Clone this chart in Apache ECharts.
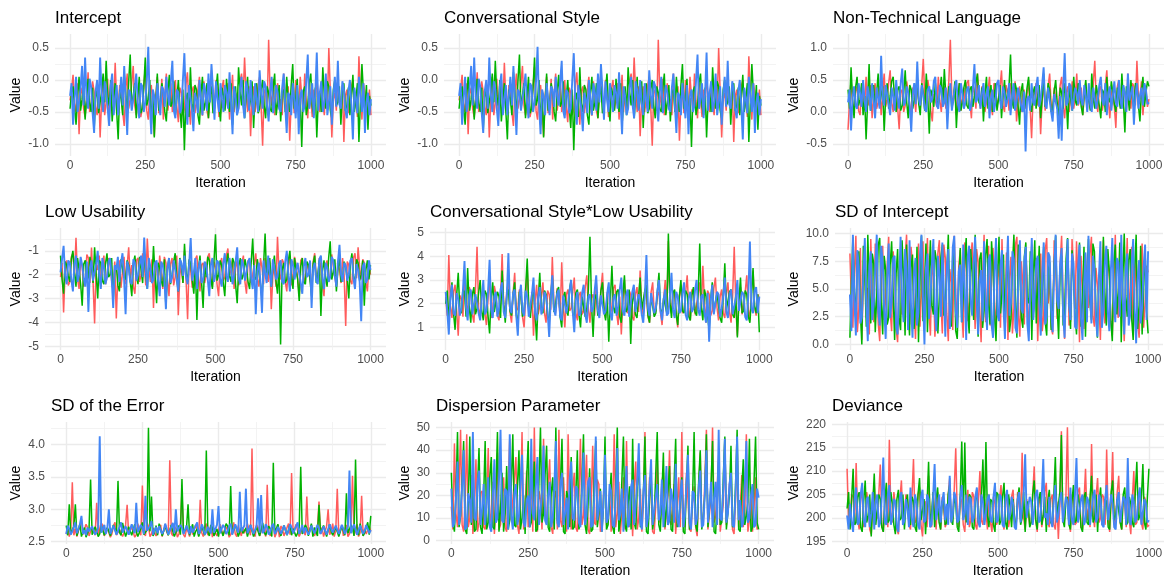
<!DOCTYPE html>
<html>
<head>
<meta charset="utf-8">
<script src="https://cdn.jsdelivr.net/npm/echarts@6/dist/echarts.min.js"></script>
<style>
  html, body { margin: 0; padding: 0; background: #fff; }
  #chart { width: 1166px; height: 580px; }
</style>
</head>
<body>
<div id="chart"></div>
<script>
// MCMC trace values, thinned: one draw every STEP iterations (0..1000), one row = 100 iterations
const STEP = 5;

// Intercept (the same draws are shown for Conversational Style)
const interceptRed = [
  -0.32,-0.15,0.08,-0.38,-0.50,-0.05,-0.85,-0.22,-0.12,-0.45,-0.58,-0.28,0.12,-0.50,-0.40,-0.02,-0.18,-0.42,-0.55,-0.10,
  -0.90,-0.30,0.05,-0.55,-0.35,0.02,-0.62,-0.18,0.00,-0.40,0.27,-0.35,-0.48,-0.08,-0.20,-0.50,-0.72,-0.15,0.10,-0.45,
  -0.30,-0.05,0.22,-0.40,-0.55,-0.20,-0.12,-0.58,-0.45,-0.10,0.20,-0.48,-0.62,-0.15,-0.08,-0.42,-0.88,-0.25,0.05,-0.52,
  -0.35,0.02,-0.62,-0.22,0.10,-0.48,-0.25,-0.05,-0.50,-0.30,0.00,-0.42,-0.66,-0.12,-0.20,-0.55,-0.45,-0.08,0.12,-0.38,
  -0.70,-0.18,-0.10,-0.52,-0.35,-0.15,0.05,-0.40,-0.56,-0.02,-0.25,-0.48,-0.60,-0.20,0.15,-0.35,-0.40,0.00,-0.15,-0.58,
  -0.52,-0.12,0.00,-0.45,-0.30,-0.05,-0.62,-0.25,0.08,-0.50,-0.20,-0.38,-0.45,-0.02,0.10,-0.30,0.35,-0.20,-0.50,-0.10,
  -0.88,-0.28,-0.10,-0.50,-0.30,-0.08,0.05,-0.42,-1.03,-0.15,-0.20,-0.48,0.63,-0.22,-0.40,0.02,-0.55,-0.18,-0.05,-0.45,
  -0.30,-0.55,0.10,-0.28,-0.60,-0.10,-0.95,-0.35,-0.20,-0.52,0.00,-0.30,-0.45,0.05,-0.25,-0.48,0.10,-0.32,-0.60,-0.05,
  -0.30,-0.58,-0.15,-0.40,0.05,-0.25,-0.50,-0.02,-0.35,-0.55,-0.10,-0.42,0.50,-0.18,-0.90,-0.30,-0.20,-0.48,0.05,-0.35,
  -0.40,-0.08,-0.97,-0.25,-0.15,-0.52,-0.50,-0.10,0.00,-0.45,-0.30,-0.58,0.37,-0.20,-0.62,-0.05,-0.20,-0.50,-0.45,-0.15,
  -0.55
];
const interceptGreen = [
  -0.45,-0.20,-0.10,-0.42,-0.70,-0.25,0.05,-0.48,-0.30,-0.05,-0.62,-0.30,0.02,-0.35,-0.50,-0.12,-0.78,-0.28,-0.15,-0.52,
  -0.55,-0.18,0.10,-0.35,0.30,-0.25,-0.40,0.00,-0.65,-0.32,-0.05,-0.50,-0.93,-0.15,-0.30,-0.55,0.12,-0.20,-0.55,-0.02,
  0.40,-0.45,-0.25,-0.05,-0.60,-0.28,0.05,-0.52,-0.45,-0.12,0.35,-0.40,-0.30,0.00,-0.70,-0.22,-0.90,-0.35,0.10,-0.48,
  -0.40,-0.05,-0.20,-0.50,-0.65,-0.18,0.08,-0.42,-0.35,-0.02,-0.55,-0.28,0.00,-0.45,-0.75,-0.15,-1.10,-0.32,-0.20,-0.58,
  0.20,-0.38,-0.50,-0.08,-0.15,-0.55,-0.70,-0.22,0.05,-0.48,-0.35,-0.05,-0.60,-0.25,-0.10,-0.52,-0.45,-0.15,0.10,-0.40,
  -0.65,-0.12,-0.25,-0.48,0.02,-0.30,-0.50,-0.05,-0.70,-0.35,-0.10,-0.55,0.20,-0.18,-0.40,0.00,-0.60,-0.28,0.05,-0.45,
  -0.30,-0.02,-0.75,-0.25,-0.05,-0.52,-0.45,-0.15,0.00,-0.40,-0.60,-0.10,-0.20,-0.45,-0.50,-0.12,0.10,-0.55,-0.35,-0.08,
  -0.65,-0.20,-0.15,-0.50,0.05,-0.32,-0.50,-0.08,0.25,-0.45,-0.30,0.02,-0.62,-0.28,-1.05,-0.18,-0.10,-0.55,-0.40,-0.05,
  0.10,-0.42,-0.55,-0.12,-0.90,-0.30,-0.20,-0.50,0.20,-0.25,-0.45,-0.02,-0.10,-0.48,-0.60,-0.15,0.00,-0.40,-0.35,-0.10,
  -0.70,-0.22,-0.05,-0.48,-0.40,-0.12,-0.55,-0.28,0.08,-0.50,-0.30,-0.05,-0.97,-0.35,0.25,-0.20,-0.45,-0.08,-0.78,-0.25,
  -0.40
];
const interceptBlue = [
  -0.25,-0.05,-0.70,-0.30,0.05,-0.50,-0.35,-0.12,0.22,-0.40,0.35,-0.28,-0.45,0.02,-0.10,-0.52,-0.83,-0.18,0.00,-0.45,
  0.35,-0.22,-0.50,-0.02,-0.15,-0.45,-0.72,-0.10,0.10,-0.55,-0.30,-0.08,-0.55,-0.25,0.05,-0.40,0.22,-0.32,-0.86,-0.15,
  -0.20,-0.48,-0.45,-0.12,0.10,-0.35,-0.60,-0.05,-0.10,-0.50,-0.35,-0.02,0.52,-0.40,-0.85,-0.15,-0.25,-0.55,-0.05,-0.30,
  -0.55,-0.10,-0.15,-0.42,0.05,-0.25,-0.40,-0.02,0.30,-0.48,-0.60,-0.15,-0.20,-0.52,-0.45,0.00,0.42,-0.35,-0.70,-0.08,
  -0.10,-0.45,-0.80,-0.20,-0.30,-0.52,0.00,-0.28,-0.55,-0.05,-0.20,-0.48,0.10,-0.35,0.25,-0.15,-0.62,-0.02,-0.30,-0.50,
  -0.05,-0.30,-0.50,-0.08,-0.20,-0.45,0.12,-0.35,-0.85,-0.10,-0.25,-0.55,-0.45,-0.12,0.05,-0.40,-0.60,-0.02,-0.15,-0.48,
  0.00,-0.38,-0.55,-0.05,-0.30,-0.50,0.15,-0.22,-0.45,-0.02,-0.10,-0.42,-0.65,-0.18,0.05,-0.52,-0.35,-0.08,-0.20,-0.45,
  -0.50,-0.12,0.10,-0.40,-0.83,-0.20,-0.25,-0.55,-0.05,-0.30,-0.60,-0.08,-0.85,-0.25,-0.15,-0.50,-0.40,-0.02,0.40,-0.45,
  -0.30,-0.05,-0.60,-0.22,0.43,-0.48,-0.20,-0.02,-0.50,-0.35,0.10,-0.55,-0.35,-0.10,-0.70,-0.25,0.05,-0.42,0.30,-0.38,
  -0.45,-0.02,-0.15,-0.48,-0.60,-0.18,0.00,-0.40,-0.93,-0.12,-0.30,-0.52,0.05,-0.25,-0.50,-0.05,-0.83,-0.35,-0.20,-0.55,
  -0.30
];

// Non-Technical Language
const nonTechRed = [
  -0.28,0.18,0.50,0.12,0.05,0.32,0.40,0.02,-0.05,0.38,0.30,0.08,0.55,0.20,0.10,0.42,-0.10,0.25,0.45,0.05,
  0.15,0.40,-0.05,0.28,0.60,0.08,0.20,0.45,0.65,0.15,0.00,0.35,0.40,0.05,-0.27,0.30,0.35,0.00,0.10,0.48,
  0.50,0.12,-0.10,0.38,0.25,0.00,0.45,0.18,0.05,0.42,0.83,0.22,0.10,0.50,0.35,0.02,-0.15,0.28,0.30,0.08,
  0.55,0.18,0.00,0.35,0.40,0.05,0.20,0.48,1.13,0.22,0.15,0.40,-0.05,0.28,0.45,0.02,0.25,0.38,0.10,0.45,
  0.50,0.15,-0.10,0.42,0.30,0.05,0.60,0.25,0.05,0.40,0.35,0.00,0.15,0.32,0.55,0.12,-0.05,0.45,0.40,0.10,
  0.20,0.38,0.65,0.10,0.00,0.42,0.30,0.02,0.45,0.22,0.10,0.48,-0.15,0.15,0.40,0.00,0.25,0.35,0.05,0.28,
  0.50,0.08,-0.41,0.25,0.30,0.45,0.10,0.30,-0.35,0.18,0.45,0.02,0.20,0.40,0.60,0.12,0.00,0.38,0.35,0.05,
  0.15,0.42,0.55,0.08,-0.10,0.30,0.40,0.00,0.25,0.48,0.05,0.22,0.60,0.10,0.20,0.38,-0.05,0.25,0.45,0.02,
  0.30,0.05,0.10,0.45,0.80,0.15,0.00,0.35,0.40,0.02,0.20,0.42,0.65,0.18,-0.10,0.30,0.35,0.08,-0.25,0.40,
  0.50,0.12,0.15,0.38,0.30,0.02,0.60,0.22,0.05,0.45,0.40,0.10,0.80,0.25,0.20,0.48,-0.05,0.28,0.35,0.08,
  0.20
];
const nonTechGreen = [
  0.35,0.05,0.70,0.20,-0.10,0.38,0.55,0.10,0.20,0.45,-0.05,0.25,-0.43,0.15,0.75,0.02,0.30,0.42,0.05,0.28,
  0.60,0.12,0.15,0.40,-0.30,0.22,0.45,0.05,0.25,0.48,0.55,0.18,0.00,0.35,0.40,0.02,0.10,0.30,0.65,0.15,
  -0.10,0.42,0.35,0.05,0.20,0.38,0.50,0.12,-0.05,0.45,0.30,0.02,0.60,0.22,-0.34,0.35,0.25,0.08,0.45,0.18,
  0.10,0.32,0.55,0.12,0.67,0.25,0.00,0.40,0.35,0.05,0.20,0.48,-0.25,0.22,0.45,0.02,0.15,0.38,0.50,0.10,
  0.05,0.35,0.40,0.08,0.25,0.45,0.60,0.15,0.10,0.38,-0.15,0.28,0.55,0.05,0.30,0.42,0.00,0.20,0.45,0.02,
  0.20,0.42,-0.10,0.25,0.50,0.08,0.30,0.40,0.90,0.18,0.05,0.45,0.35,0.10,-0.20,0.32,0.45,0.02,0.15,0.38,
  0.55,0.12,0.00,0.30,0.40,0.05,0.25,0.42,-0.10,0.20,0.60,0.08,0.15,0.45,0.35,0.00,0.05,0.32,0.50,0.15,
  -0.15,0.38,0.30,0.05,0.45,0.22,-0.27,0.40,0.20,0.02,0.55,0.18,0.10,0.45,0.35,0.08,-0.05,0.30,0.50,0.12,
  0.25,0.02,0.60,0.20,0.05,0.42,0.40,0.10,-0.10,0.35,0.30,0.00,0.55,0.22,0.15,0.48,0.45,0.12,0.00,0.38,
  0.35,0.05,0.60,0.18,-0.32,0.40,0.25,0.02,0.50,0.22,0.05,0.45,0.40,0.10,-0.15,0.32,0.55,0.08,0.30,0.48,
  0.40
];
const nonTechBlue = [
  0.15,0.35,-0.29,0.22,0.40,0.10,0.05,0.45,0.30,0.08,0.50,0.18,0.00,0.40,0.25,0.02,0.45,0.20,-0.10,0.38,
  0.35,0.05,0.88,0.20,0.10,0.42,0.40,0.12,-0.05,0.38,0.25,0.02,0.50,0.22,0.05,0.45,0.68,0.10,0.15,0.40,
  0.30,0.08,-0.31,0.28,0.45,0.12,0.79,0.20,0.10,0.42,0.25,0.05,0.00,0.35,0.40,0.15,0.20,0.48,0.55,0.10,
  0.05,0.42,0.35,0.08,0.15,0.38,-0.27,0.22,0.45,0.02,0.20,0.40,0.50,0.12,0.00,0.45,0.30,0.05,0.15,0.35,
  0.40,0.02,0.10,0.38,0.75,0.15,0.20,0.42,0.05,0.28,0.45,0.08,0.25,0.40,-0.10,0.22,0.35,0.00,0.15,0.45,
  0.50,0.18,0.05,0.40,0.30,0.08,0.20,0.45,-0.05,0.25,0.45,0.02,0.15,0.38,0.35,0.10,0.00,0.32,-0.62,0.20,
  0.25,0.02,0.45,0.15,0.10,0.40,0.55,0.08,0.20,0.42,0.70,0.12,0.05,0.38,0.35,0.00,-0.15,0.28,0.30,0.05,
  -0.42,0.25,-0.45,0.35,0.92,0.10,0.15,0.45,0.40,0.02,0.05,0.38,0.30,0.12,0.50,0.18,0.10,0.42,0.25,0.00,
  0.45,0.12,0.00,0.38,0.35,0.05,0.20,0.42,0.55,0.18,0.10,0.45,-0.05,0.30,0.40,0.02,0.25,0.48,0.15,0.08,
  0.50,0.20,0.05,0.42,0.30,0.00,0.60,0.18,0.15,0.40,-0.20,0.25,0.45,0.05,0.25,0.38,0.10,0.45,0.35,0.12,
  0.15
];

// Low Usability
const lowUsRed = [
  -2.10,-1.50,-3.59,-1.80,-1.40,-2.45,-2.30,-1.25,-1.10,-2.05,-0.45,-2.20,-2.60,-1.35,-1.70,-2.50,-2.20,-1.15,-1.30,-2.35,
  -0.86,-2.30,-4.05,-1.55,-1.80,-1.20,-2.50,-1.65,-1.20,-2.40,-2.10,-1.30,-1.60,-2.25,-2.70,-1.45,-3.84,-2.00,-1.40,-2.55,
  -1.90,-1.25,-2.40,-1.60,-0.85,-2.15,-1.60,-2.50,-2.80,-1.40,-1.30,-2.30,-2.00,-1.10,-1.50,-2.45,-0.48,-1.75,-2.30,-1.35,
  -3.40,-1.50,-1.70,-2.40,-1.20,-1.90,-2.60,-1.25,-1.50,-2.20,-2.90,-1.55,-1.30,-2.45,-2.10,-1.20,-3.70,-2.00,-1.60,-2.35,
  -1.00,-2.20,-3.87,-1.40,-1.80,-2.55,-2.40,-1.35,-1.20,-2.10,-2.70,-1.60,-1.50,-2.35,-2.00,-1.25,-1.10,-2.15,-2.50,-1.45,
  -1.70,-2.40,-2.90,-1.55,-1.30,-2.25,-2.10,-1.20,-0.90,-2.00,-1.80,-1.35,-2.60,-1.70,-1.40,-2.45,-2.20,-1.50,-1.20,-2.30,
  -2.80,-1.40,-1.50,-2.35,-2.00,-1.55,-1.10,-2.20,-2.50,-1.30,-1.70,-2.40,-1.30,-1.90,-2.30,-1.45,-3.45,-2.05,-1.60,-2.50,
  -0.41,-1.95,-2.20,-1.35,-1.50,-2.30,-2.70,-1.60,-1.20,-2.45,-2.00,-1.25,-1.60,-2.15,-2.90,-1.40,-1.30,-2.35,-2.10,-1.50,
  -1.50,-2.20,-2.60,-1.45,-1.10,-2.05,-2.30,-1.30,-1.70,-2.40,-2.90,-1.60,-1.40,-2.30,-2.00,-1.15,-1.20,-2.10,-2.50,-1.55,
  -1.80,-2.35,-1.30,-2.05,-4.15,-1.45,-1.60,-2.25,-2.40,-1.30,-1.10,-2.15,-0.85,-1.70,-2.20,-1.35,-1.50,-2.30,-2.70,-1.60,
  -2.00
];
const lowUsGreen = [
  -1.20,-2.20,-2.80,-1.45,-1.60,-2.05,-2.30,-1.35,-1.00,-1.90,-2.50,-1.30,-1.80,-2.40,-3.30,-1.55,-1.40,-2.30,-2.10,-1.25,
  -1.70,-2.35,-0.85,-1.95,-3.00,-1.40,-1.50,-2.25,-2.40,-1.55,-1.10,-2.10,-2.00,-1.30,-3.10,-1.75,-1.60,-2.45,-2.70,-1.35,
  -1.30,-2.10,-2.20,-1.40,-1.60,-2.30,-2.90,-1.55,-1.20,-2.05,-2.40,-1.25,-1.80,-2.35,-1.00,-1.95,-2.60,-1.45,-1.50,-2.20,
  -0.80,-2.00,-3.20,-1.50,-1.70,-2.25,-2.50,-1.35,-3.40,-1.80,-1.30,-2.40,-2.00,-1.45,-1.10,-2.15,-2.70,-1.30,-1.60,-2.35,
  -0.70,-1.90,-2.30,-1.35,-1.50,-2.20,-2.80,-1.60,-3.90,-1.75,-1.20,-2.30,-3.40,-1.50,-2.10,-1.25,-1.40,-2.15,-2.60,-1.45,
  -0.30,-2.25,-2.00,-1.40,-1.60,-2.35,-2.90,-1.55,-1.10,-2.05,-2.30,-1.30,-1.50,-2.45,-3.20,-1.65,-1.30,-2.20,-2.00,-1.35,
  -1.70,-2.30,-2.60,-1.50,-0.48,-2.10,-2.20,-1.35,-1.40,-2.40,-3.00,-1.60,-0.27,-2.15,-1.90,-1.30,-2.50,-1.70,-1.20,-2.25,
  -2.80,-1.55,-4.93,-1.80,-1.50,-2.35,-2.20,-1.40,-1.00,-2.10,-2.60,-1.30,-1.80,-2.20,-3.10,-1.65,-1.30,-2.30,-2.40,-1.45,
  -1.60,-2.25,-2.90,-1.55,-1.20,-2.35,-2.00,-1.40,-3.73,-1.85,-1.40,-2.10,-2.50,-1.30,-0.60,-2.20,-1.90,-1.35,-2.70,-1.75,
  -1.30,-2.30,-2.20,-1.45,-1.70,-2.15,-3.00,-1.55,-1.10,-2.05,-2.40,-1.35,-1.50,-2.25,-2.00,-1.40,-3.30,-1.80,-1.40,-2.20,
  -1.60
];
const lowUsBlue = [
  -1.90,-1.35,-0.79,-2.05,-2.40,-1.40,-1.50,-2.20,-2.70,-1.55,-1.20,-2.30,-2.00,-1.25,-1.60,-2.15,-2.50,-1.45,-3.56,-1.70,
  -1.40,-2.25,-2.20,-1.55,-1.00,-2.05,-2.60,-1.30,-1.70,-2.40,-2.10,-1.45,-1.30,-2.15,-3.40,-1.60,-1.80,-1.25,-2.30,-1.50,
  -1.10,-2.15,-3.66,-1.45,-1.70,-2.30,-2.40,-1.35,-1.50,-2.25,-2.00,-1.55,-1.20,-2.10,-0.44,-1.80,-2.60,-1.30,-1.70,-2.35,
  -2.20,-1.50,-1.40,-2.25,-2.90,-1.45,-1.60,-2.15,-3.45,-1.70,-1.30,-2.35,-2.10,-1.40,-1.80,-2.20,-2.70,-1.35,-1.50,-2.05,
  -1.20,-2.10,-2.40,-1.55,-0.46,-2.25,-1.90,-1.30,-2.60,-1.75,-1.40,-2.35,-2.20,-1.45,-1.60,-2.20,-2.90,-1.60,-1.30,-2.30,
  -2.00,-1.40,-1.50,-2.20,-2.50,-1.55,-1.10,-2.05,-2.30,-1.30,-1.70,-2.40,-2.00,-1.45,-0.85,-2.15,-2.40,-1.35,-1.60,-2.25,
  -2.20,-1.45,-1.30,-2.15,-2.60,-1.60,-3.66,-1.85,-1.50,-2.30,-3.60,-1.40,-1.90,-2.35,-1.20,-1.95,-2.50,-1.35,-1.70,-2.20,
  -2.10,-1.55,-1.40,-2.30,-2.40,-1.45,-1.00,-2.05,-2.70,-1.35,-1.60,-2.20,-2.20,-1.50,-1.50,-2.35,-2.80,-1.65,-1.30,-2.10,
  -2.00,-1.40,-3.40,-1.75,-1.50,-2.25,-2.40,-1.35,-1.20,-2.15,-2.60,-1.50,-1.70,-2.30,-2.10,-1.25,-1.40,-2.05,-2.50,-1.45,
  -0.75,-2.00,-2.30,-1.50,-1.60,-2.25,-2.00,-1.40,-1.30,-2.15,-2.60,-1.55,-1.80,-2.30,-3.95,-1.65,-1.50,-2.35,-2.20,-1.40,
  -1.80
];

// Conversational Style*Low Usability
const interRed = [
  2.30,1.50,4.05,1.90,1.40,2.50,2.80,1.70,0.65,2.35,2.20,1.45,3.10,2.00,1.60,2.70,2.50,1.55,1.20,2.60,
  4.40,1.80,1.50,2.40,2.60,1.60,1.10,2.20,3.20,1.40,1.80,2.75,2.40,1.50,1.30,2.30,4.09,1.90,1.70,2.55,
  2.90,1.65,1.20,2.45,3.30,1.70,1.80,2.60,2.40,1.45,1.00,2.25,3.50,1.80,1.60,2.50,0.65,2.10,2.80,1.55,
  1.50,2.30,2.90,1.60,1.20,2.55,2.40,1.75,3.97,2.05,1.60,2.65,2.20,1.45,3.75,1.90,1.00,2.40,2.60,1.70,
  1.80,2.50,3.10,1.60,1.30,2.35,2.50,1.55,1.70,2.70,3.20,1.80,1.20,2.25,2.40,1.50,2.90,1.95,1.50,2.60,
  3.30,1.70,1.40,2.45,2.60,1.50,1.90,2.65,2.80,1.60,1.10,2.30,0.70,2.15,3.00,1.75,1.60,2.55,2.40,1.45,
  1.30,2.40,2.70,1.65,3.40,1.90,1.50,2.60,2.30,1.45,1.20,2.50,2.90,1.55,1.70,2.35,2.50,1.60,1.10,2.20,
  3.00,1.75,4.64,2.00,1.60,2.55,2.40,1.50,1.00,2.30,2.80,1.60,1.70,2.45,3.20,1.80,1.30,2.60,2.50,1.55,
  1.50,2.40,2.90,1.70,3.60,2.10,1.20,2.55,2.40,1.50,1.70,2.65,3.10,1.85,1.30,2.30,2.60,1.60,1.40,2.45,
  2.90,1.65,1.20,2.35,4.40,1.90,0.65,2.20,2.70,1.55,1.60,2.50,3.20,1.75,1.30,2.60,3.40,1.80,1.50,2.40,
  2.20
];
const interGreen = [
  2.00,2.55,1.40,2.20,2.90,1.60,0.90,2.35,3.30,1.75,1.60,2.60,2.50,1.45,3.50,1.90,1.20,2.40,2.70,1.55,
  1.80,2.45,3.00,1.70,1.30,2.55,2.40,1.50,0.75,2.25,2.90,1.65,1.60,2.50,2.30,1.40,3.40,1.95,1.20,2.35,
  2.60,1.70,1.50,2.40,2.90,1.55,1.10,2.50,2.30,1.45,1.70,2.65,3.90,1.80,1.40,2.30,2.50,1.60,0.45,2.20,
  3.30,1.75,1.60,2.55,2.40,1.50,1.20,2.35,3.10,1.65,1.90,2.50,2.70,1.45,1.00,2.25,2.50,1.70,1.50,2.60,
  3.00,1.60,1.40,2.45,2.60,1.55,1.00,2.30,2.30,1.45,1.80,2.60,4.82,2.00,0.60,2.20,2.40,1.50,1.70,2.55,
  2.90,1.70,1.30,2.35,0.40,2.10,3.60,1.85,1.60,2.50,2.60,1.45,1.20,2.40,3.20,1.65,1.80,2.60,0.30,2.05,
  2.50,1.55,1.40,2.30,3.10,1.75,1.70,2.55,2.80,1.50,1.20,2.35,2.40,1.45,1.60,2.50,3.30,1.80,1.50,2.25,
  2.20,1.60,4.96,2.05,1.40,2.45,2.60,1.55,1.10,2.30,3.00,1.70,1.60,2.55,2.40,1.45,1.30,2.35,2.70,1.65,
  1.50,2.40,4.54,1.85,1.30,2.60,2.30,1.50,0.90,2.20,2.90,1.65,1.60,2.45,2.50,1.40,1.20,2.30,3.70,1.75,
  1.80,2.50,2.60,1.55,1.40,2.35,0.58,2.10,3.10,1.60,1.70,2.55,2.40,1.45,1.20,2.25,3.50,1.90,1.60,2.40,
  0.80
];
const interBlue = [
  2.50,1.70,0.70,2.25,2.80,1.60,1.50,2.45,2.20,1.50,1.80,2.55,3.80,1.85,1.30,2.35,2.60,1.55,1.60,2.40,
  2.40,1.60,1.30,2.20,3.00,1.55,1.70,2.50,3.85,1.75,1.40,2.30,2.50,1.45,1.80,2.60,2.90,1.65,1.40,2.35,
  4.13,1.80,1.60,2.45,2.60,1.50,0.65,2.25,2.80,1.70,1.50,2.55,2.30,1.45,1.90,2.40,3.10,1.60,1.30,2.30,
  2.70,1.55,1.80,2.50,2.30,1.65,0.60,2.20,3.20,1.75,1.50,2.40,2.60,1.45,1.30,2.35,2.40,1.60,2.00,2.55,
  3.00,1.70,0.80,2.15,2.50,1.50,1.60,2.45,2.80,1.55,1.20,2.30,2.40,1.65,1.80,2.55,3.20,1.75,1.40,2.35,
  2.30,1.55,1.70,2.45,2.90,1.60,1.30,2.25,2.40,1.50,1.90,2.60,3.10,1.70,1.50,2.35,2.60,1.45,1.40,2.50,
  2.80,1.65,1.60,2.40,2.20,1.55,1.20,2.30,4.05,1.80,1.50,2.45,2.50,1.60,1.80,2.55,3.00,1.70,1.30,2.20,
  2.60,1.50,1.60,2.35,3.30,1.75,1.40,2.50,2.30,1.60,1.70,2.45,2.90,1.55,1.30,2.25,2.50,1.65,1.80,2.55,
  3.00,1.75,1.50,2.30,2.40,1.60,1.20,2.45,0.40,2.10,2.80,1.55,1.50,2.50,2.40,1.45,1.80,2.35,3.10,1.65,
  1.40,2.40,2.60,1.55,1.50,2.25,3.00,1.70,1.70,2.50,2.40,1.45,1.30,2.35,4.62,1.80,1.60,2.55,2.70,1.60,
  2.30
];

// SD of Intercept
const sdIntRed = [
  8.2,4.0,1.5,6.3,9.8,1.1,3.2,8.7,0.4,5.5,7.6,2.4,5.1,0.9,9.5,4.6,2.0,9.1,6.8,1.9,
  0.3,5.8,8.9,2.2,4.2,7.1,9.7,3.0,1.2,8.4,6.5,1.4,0.2,6.0,8.0,2.7,3.5,7.7,9.9,4.3,
  1.8,8.8,7.2,3.6,0.5,5.3,9.1,1.6,4.8,9.3,2.5,6.6,9.6,3.1,0.8,7.4,6.2,0.7,3.0,8.2,
  9.4,4.1,1.0,9.0,7.8,2.8,0.3,6.8,5.6,1.3,9.8,4.4,2.2,7.0,8.5,3.3,0.6,9.2,6.9,2.1,
  3.8,7.9,9.2,5.0,1.4,8.6,7.4,3.4,0.2,6.1,9.9,2.0,4.5,8.9,1.7,5.7,8.7,3.9,0.9,7.2,
  6.0,1.5,9.5,4.7,2.8,8.3,0.4,5.9,7.9,1.0,3.3,9.0,9.7,2.6,0.7,7.5,5.4,1.8,8.6,3.8,
  1.1,6.4,9.0,2.9,4.0,7.8,0.3,5.2,8.2,1.2,2.6,8.5,9.6,3.7,6.3,1.6,0.9,9.4,7.5,2.3,
  3.6,7.3,9.8,4.2,0.5,6.2,8.8,1.7,2.1,9.5,6.6,3.2,9.3,5.6,0.2,8.0,4.9,1.4,8.1,4.5,
  3.3,8.1,9.7,2.5,1.6,6.9,7.0,3.9,0.4,5.8,9.4,1.9,2.9,7.6,6.4,2.2,0.8,5.1,9.9,3.5,
  2.4,6.7,8.3,4.0,0.3,5.4,9.6,2.7,5.2,8.8,1.3,4.9,7.7,2.0,0.6,6.3,9.1,1.5,3.9,7.1,
  6.5
];
const sdIntGreen = [
  0.6,5.4,9.7,4.8,2.6,7.5,8.4,3.0,0.0,8.9,6.1,1.6,9.9,5.0,1.9,8.2,7.3,1.1,4.4,9.0,
  9.6,3.7,0.9,8.0,6.7,1.8,2.4,7.2,9.3,4.5,0.4,6.4,8.6,2.3,1.3,9.4,5.9,0.8,9.0,3.3,
  0.8,6.9,8.1,1.4,3.4,8.8,0.2,5.6,9.8,2.1,5.0,9.1,1.1,6.0,9.4,3.5,2.7,8.5,7.6,1.0,
  0.9,7.8,9.0,2.6,3.9,6.5,9.9,3.1,1.6,8.3,7.1,1.2,0.5,5.3,8.7,2.0,4.3,7.4,9.6,2.9,
  1.0,8.6,6.4,2.2,9.9,4.9,0.7,7.7,8.3,1.5,3.1,8.0,9.5,3.6,1.8,9.3,7.0,2.5,0.3,6.2,
  9.7,2.8,4.6,8.1,0.9,5.5,8.9,1.1,2.3,7.0,9.9,3.9,0.6,9.0,6.8,2.4,1.5,7.9,9.2,4.2,
  3.7,8.4,0.4,6.1,9.4,1.9,5.5,8.9,1.2,4.6,8.8,2.0,0.8,6.7,7.4,1.3,2.9,7.2,9.8,3.4,
  0.5,6.6,8.0,1.7,3.0,7.7,9.6,4.0,1.4,8.5,6.0,2.6,0.9,5.8,9.2,1.6,4.1,8.8,0.7,6.3,
  9.5,3.8,2.2,9.1,8.4,3.2,0.6,5.9,7.1,1.8,9.7,4.7,1.7,8.6,6.6,2.1,0.3,7.3,9.0,2.7,
  4.7,9.2,0.2,5.7,10.0,4.4,2.5,7.6,8.6,2.3,0.4,6.8,9.9,1.4,3.5,8.9,0.9,5.0,8.5,3.0,
  1.0
];
const sdIntBlue = [
  4.5,1.2,9.9,4.0,0.8,8.5,7.0,1.9,2.4,6.3,9.6,3.4,0.3,7.1,8.4,2.2,3.6,6.8,9.9,2.9,
  1.7,8.9,7.5,3.1,0.5,6.0,9.1,2.4,3.9,7.8,8.0,1.6,0.9,5.5,9.7,3.8,2.0,8.6,6.9,1.3,
  9.4,3.5,0.6,6.4,7.8,1.7,2.9,8.1,9.9,4.4,0.0,6.9,8.2,2.3,4.0,7.3,9.5,2.8,1.2,8.0,
  6.3,2.5,9.2,4.8,0.7,7.0,8.6,1.4,3.4,8.8,9.8,3.0,1.5,6.6,7.2,2.0,9.0,5.1,0.4,7.9,
  8.9,3.9,2.6,7.4,9.7,4.2,0.9,5.8,6.7,2.1,9.3,3.6,1.3,7.7,8.1,1.8,0.6,6.5,9.6,2.7,
  2.1,7.1,8.5,3.3,0.5,6.2,9.8,2.6,3.7,8.4,7.7,1.5,1.0,5.9,9.4,3.2,2.8,7.6,8.8,1.9,
  0.3,6.1,9.6,2.2,4.3,7.5,8.0,3.7,0.8,6.4,9.2,1.8,2.5,8.3,7.9,3.0,1.1,6.7,9.9,4.0,
  3.2,7.2,8.7,2.7,0.6,5.6,9.5,3.5,2.2,8.2,7.3,1.6,1.4,6.9,9.0,2.4,0.4,5.3,8.3,2.0,
  9.8,4.6,1.9,8.0,6.9,2.3,0.7,6.0,9.3,1.5,3.0,7.4,8.9,2.9,1.2,6.6,9.6,3.8,2.0,7.8,
  7.4,2.5,9.9,4.3,0.9,6.8,8.2,1.7,2.7,7.3,9.5,3.2,0.1,5.9,7.6,1.9,3.3,7.0,9.0,2.2,
  8.4
];

// SD of the Error
const sdErrRed = [
  2.62,2.70,2.58,2.66,3.42,2.60,2.70,2.58,2.60,2.75,2.85,2.61,2.63,2.77,2.72,2.59,2.57,2.73,2.66,2.60,
  3.10,2.62,2.60,2.79,2.75,2.59,2.58,2.71,2.68,2.57,2.62,2.74,2.80,2.60,2.59,2.69,2.70,2.58,2.64,2.76,
  3.07,2.61,2.58,2.73,2.72,2.57,2.61,2.78,2.66,2.60,3.37,2.65,2.59,2.80,2.74,2.58,2.62,2.71,2.68,2.59,
  2.60,2.72,2.76,2.58,2.58,2.77,2.65,2.60,3.76,2.63,2.59,2.74,2.70,2.57,2.62,2.79,3.27,2.61,2.57,2.70,
  2.66,2.58,2.73,2.61,2.60,2.76,2.69,2.59,3.15,2.64,2.58,2.72,2.78,2.60,2.63,2.75,2.57,2.68,2.70,2.59,
  2.62,2.77,2.74,2.60,2.59,2.73,2.67,2.57,2.61,2.70,2.80,2.62,2.58,2.75,2.66,2.59,2.72,2.63,2.60,2.78,
  2.69,2.60,3.94,2.64,2.58,2.76,2.72,2.59,2.62,2.74,2.67,2.58,3.38,2.66,2.59,2.71,2.75,2.57,2.63,2.73,
  2.57,2.74,2.70,2.59,2.62,2.72,2.78,2.61,3.56,2.63,2.60,2.77,2.66,2.58,2.58,2.70,2.73,2.60,3.20,2.64,
  2.61,2.76,2.68,2.59,2.57,2.71,3.12,2.62,2.72,2.58,2.60,2.74,3.00,2.61,2.65,2.78,2.58,2.67,3.32,2.60,
  2.63,2.75,2.59,2.69,2.76,2.58,2.62,2.73,3.52,2.60,2.67,2.77,2.58,2.64,3.21,2.59,2.70,2.62,2.61,2.74,
  2.66
];
const sdErrGreen = [
  2.75,2.60,3.08,2.62,2.60,2.74,3.08,2.59,2.68,2.77,2.58,2.66,2.72,2.57,2.63,2.71,3.46,2.61,2.59,2.73,
  2.70,2.58,2.62,2.75,2.78,2.60,2.57,2.72,2.66,2.59,2.61,2.76,2.74,2.62,3.44,2.64,2.60,2.79,2.68,2.58,
  2.58,2.73,2.71,2.60,2.63,2.77,2.66,2.58,2.59,2.70,2.80,2.61,2.62,2.68,4.26,2.66,3.20,2.59,2.64,2.75,
  2.60,2.78,2.69,2.59,2.57,2.74,2.72,2.60,2.62,2.76,2.66,2.58,2.59,2.71,2.75,2.61,3.47,2.63,2.61,2.72,
  3.08,2.60,2.63,2.77,2.58,2.66,2.70,2.58,2.61,2.74,2.67,2.60,3.91,2.65,2.59,2.76,2.72,2.59,2.62,2.70,
  2.58,2.73,2.66,2.59,2.61,2.78,2.74,2.60,3.36,2.62,2.60,2.75,2.69,2.58,2.57,2.72,2.63,2.60,2.71,2.58,
  2.60,2.76,2.67,2.58,2.58,2.73,2.72,2.59,2.62,2.79,2.65,2.60,2.59,2.74,2.70,2.58,3.72,2.64,2.61,2.77,
  2.66,2.59,2.58,2.75,2.73,2.60,2.62,2.77,2.60,2.70,2.68,2.58,2.64,2.72,3.66,2.62,2.59,2.76,2.71,2.59,
  2.62,2.78,2.58,2.72,2.69,2.59,3.07,2.63,2.61,2.75,2.74,2.58,2.59,2.77,2.66,2.60,2.63,2.73,2.70,2.58,
  2.58,2.74,2.67,2.60,3.25,2.63,2.62,2.76,2.71,2.59,3.77,2.66,2.60,2.78,2.68,2.59,2.64,2.72,2.80,2.61,
  2.90
];
const sdErrBlue = [
  2.62,2.75,2.70,2.61,2.66,2.73,2.80,2.63,2.64,2.77,2.90,2.62,2.68,2.60,2.72,2.66,2.63,2.74,2.76,2.61,
  2.65,2.72,4.13,2.64,2.70,2.76,2.62,2.71,3.00,2.62,2.68,2.75,2.74,2.61,2.63,2.73,2.80,2.64,2.66,2.74,
  2.71,2.61,2.64,2.77,2.78,2.63,3.10,2.65,2.66,2.76,2.72,2.62,3.21,2.67,2.65,2.74,2.82,2.61,2.68,2.73,
  2.63,2.74,2.75,2.62,2.67,2.78,2.70,2.61,2.64,2.73,2.79,2.63,3.00,2.66,2.66,2.76,2.72,2.62,2.65,2.75,
  2.68,2.62,2.74,2.64,2.63,2.75,2.80,2.62,2.66,2.77,2.71,2.61,2.65,2.73,2.76,2.63,3.00,2.64,2.67,2.76,
  3.05,2.63,2.64,2.76,2.72,2.62,2.66,2.74,2.78,2.61,2.63,2.77,2.70,2.64,3.27,2.66,2.65,2.75,3.32,2.63,
  2.68,2.76,2.74,2.62,2.64,2.75,3.17,2.64,3.22,2.63,2.67,2.77,2.72,2.61,2.65,2.74,2.78,2.62,2.66,2.73,
  2.70,2.62,2.64,2.75,2.76,2.61,2.67,2.77,2.72,2.63,2.65,2.74,2.80,2.62,2.68,2.76,2.63,2.72,2.74,2.61,
  2.66,2.75,2.78,2.63,2.64,2.76,2.71,2.62,2.67,2.74,2.75,2.61,2.63,2.77,2.70,2.64,2.66,2.75,2.73,2.62,
  2.65,2.76,2.70,2.62,2.68,2.74,3.60,2.63,2.66,2.77,2.74,2.61,2.64,2.75,2.72,2.62,2.67,2.76,2.70,2.63,
  2.68
];

// Dispersion Parameter
const dispRed = [
  15,5,43,12,6,24,49,7,4,18,47,6,10,29,3,14,36,4,8,21,
  22,6,5,17,41,8,12,26,3,15,39,5,7,20,28,6,4,25,45,9,
  9,27,37,7,3,16,48,5,14,31,6,11,29,4,50,10,4,22,18,5,
  45,12,8,25,36,6,3,19,22,5,49,9,6,28,13,4,47,14,5,23,
  30,6,4,18,45,7,11,24,38,5,3,16,42,8,7,27,25,4,5,20,
  33,7,9,22,4,15,47,6,12,26,3,13,28,5,44,10,6,19,2,24,
  35,5,10,23,4,17,48,6,7,28,21,4,3,15,37,8,9,26,30,5,
  5,20,40,7,12,25,3,14,28,6,48,11,6,30,18,5,4,17,24,6,
  2,22,39,6,8,27,49,5,5,19,50,8,11,24,38,4,4,16,45,7,
  7,25,30,5,3,18,42,6,13,29,6,12,47,4,9,21,4,14,28,5,
  6
];
const dispGreen = [
  30,8,4,21,48,6,11,26,44,5,3,17,46,7,27,4,5,23,41,6,
  3,19,44,5,8,28,37,6,5,22,48,4,14,30,4,12,33,5,9,25,
  47,7,6,24,40,5,10,20,3,27,44,6,8,18,35,4,5,26,50,8,
  12,29,42,6,4,21,28,5,50,9,7,25,45,4,3,22,19,6,37,5,
  6,20,40,5,8,26,47,7,3,17,32,4,5,28,44,6,12,23,4,15,
  46,5,7,19,30,6,3,24,50,4,9,27,46,7,4,16,24,5,45,8,
  5,24,35,6,8,21,46,4,3,18,30,5,10,29,48,7,4,20,39,6,
  6,22,33,5,4,26,45,6,9,17,28,4,3,25,42,5,7,19,48,7,
  4,27,40,5,10,21,47,6,6,24,44,4,3,18,35,7,8,28,46,5,
  5,20,42,6,9,25,49,5,4,22,36,7,11,17,45,4,6,26,46,8,
  5
];
const dispBlue = [
  23,6,8,19,35,7,12,24,40,5,6,21,18,8,48,10,9,26,31,7,
  14,25,7,16,28,6,4,20,36,8,10,27,49,9,8,23,22,5,47,11,
  5,21,25,7,11,26,38,8,6,18,20,6,45,12,9,24,37,7,13,22,
  42,9,7,20,26,6,10,23,44,8,6,25,30,7,12,19,5,27,35,10,
  9,24,23,8,6,21,39,7,11,26,28,6,7,18,46,9,14,22,4,17,
  38,8,10,25,22,7,6,19,41,9,12,23,4,20,33,6,8,24,27,7,
  16,26,43,8,5,22,29,6,10,24,36,7,7,19,25,9,12,27,6,18,
  33,7,9,23,18,8,34,10,6,20,27,6,11,25,38,8,5,22,21,7,
  10,24,31,6,7,21,40,8,15,26,6,19,26,7,49,10,9,23,45,8,
  12,25,30,7,6,22,46,9,18,6,8,24,44,8,10,20,25,6,7,23,
  19
];

// Deviance
const devRed = [
  210.5,199.0,198.0,205.0,204.5,198.5,211.7,200.0,197.5,204.0,206.0,198.0,199.5,205.5,203.0,197.5,196.5,203.5,207.5,199.5,
  200.0,205.0,211.4,198.5,197.0,203.0,205.5,198.0,216.7,201.0,199.0,205.5,202.5,197.5,196.5,204.0,208.0,199.0,200.5,205.0,
  204.0,198.5,197.5,204.5,212.6,199.0,199.5,205.0,206.5,198.5,196.0,203.0,203.5,198.0,209.0,200.5,198.0,205.5,201.5,197.5,
  205.5,199.5,197.5,204.5,202.0,198.0,199.0,205.0,208.5,199.0,200.0,206.0,214.9,200.5,198.0,204.5,203.5,198.5,197.0,203.0,
  206.0,198.0,199.5,205.5,204.5,198.5,197.5,203.5,210.0,199.5,198.5,204.0,201.5,197.5,205.0,199.0,197.0,204.5,203.0,198.5,
  199.5,204.0,207.0,199.0,197.5,205.0,203.5,198.0,200.0,204.5,206.0,198.5,198.0,205.5,202.5,199.5,213.9,200.0,197.5,204.0,
  204.0,198.5,199.0,205.0,211.0,199.5,197.0,204.5,203.0,198.0,200.5,205.5,207.5,199.0,198.0,204.0,205.0,198.5,197.5,203.5,
  195.5,203.0,218.5,199.0,199.5,204.5,219.4,200.0,197.0,205.0,204.0,198.5,199.0,205.5,206.5,198.0,197.5,203.5,210.5,199.5,
  202.0,198.0,215.8,200.5,198.0,204.5,208.5,199.0,200.0,205.0,204.5,198.5,214.6,200.0,197.0,204.0,214.1,198.5,199.5,205.5,
  209.0,199.0,197.5,204.5,203.0,198.0,207.5,199.5,196.5,204.0,210.0,198.5,199.0,205.0,205.0,199.0,197.5,204.5,203.5,198.0,
  198.5
];
const devGreen = [
  202.0,205.5,197.5,204.0,210.5,198.5,199.0,204.5,205.5,198.0,197.0,203.5,208.0,199.0,200.5,205.0,196.0,203.0,209.5,198.5,
  198.5,205.0,204.0,198.0,197.0,203.5,207.5,199.0,199.5,205.5,203.0,198.5,196.5,204.0,206.0,199.5,200.0,205.0,197.5,203.0,
  205.0,199.0,198.5,204.5,203.5,198.0,197.0,205.0,208.5,199.5,199.5,204.0,196.5,203.0,212.0,199.0,201.0,205.5,198.0,204.0,
  206.5,199.0,197.5,203.5,204.0,198.5,199.0,205.0,207.0,199.5,198.5,204.5,203.0,198.0,197.0,205.0,216.3,200.0,216.1,199.0,
  199.0,205.0,204.5,198.0,197.5,203.5,206.0,199.0,200.0,204.5,212.5,199.5,216.2,200.5,198.0,204.0,203.5,198.5,197.0,205.5,
  205.0,198.5,199.5,204.5,207.5,199.0,197.5,205.0,202.5,198.0,204.0,199.5,198.5,204.0,206.5,198.5,200.0,205.5,197.0,203.0,
  203.5,198.0,199.0,205.0,208.0,199.5,197.5,204.0,205.5,198.5,200.5,204.5,197.0,203.5,206.0,199.0,198.5,205.0,213.0,200.0,
  200.0,205.5,217.7,199.5,198.0,204.0,204.5,198.5,197.5,203.5,207.0,199.0,199.5,205.0,203.0,198.0,197.0,204.5,205.5,199.0,
  198.5,204.5,209.0,199.0,200.0,205.0,197.0,203.5,206.5,198.5,199.0,204.0,203.5,198.0,197.5,205.5,208.0,199.5,200.5,204.0,
  204.0,199.0,197.5,205.0,206.5,198.5,199.0,204.5,203.0,199.0,198.0,205.5,212.0,199.5,200.5,204.0,211.5,199.0,197.5,204.5,
  210.5
];
const devBlue = [
  200.5,197.5,203.0,199.0,197.0,204.0,206.5,198.5,199.0,205.0,207.5,199.5,198.0,204.0,204.5,198.0,201.0,205.5,197.5,203.5,
  205.0,198.0,199.0,204.5,212.9,199.0,198.5,205.0,207.0,198.5,200.0,204.0,203.5,198.0,197.0,204.5,205.5,198.5,199.5,204.0,
  202.0,198.0,206.5,199.5,198.0,205.0,203.5,198.5,197.5,204.5,206.0,199.0,199.5,205.0,204.0,198.0,198.5,204.5,211.5,199.5,
  201.5,205.0,199.0,203.5,205.5,199.5,203.0,198.5,209.0,199.0,200.5,205.5,204.5,199.0,199.5,204.5,207.0,199.5,201.0,205.0,
  198.5,204.5,204.0,199.0,200.0,204.5,206.5,199.0,198.0,205.0,203.5,198.5,201.0,204.0,205.0,199.5,199.0,204.5,207.5,199.0,
  199.5,205.0,204.5,198.5,198.0,204.0,206.0,199.5,200.5,204.5,203.0,198.0,197.5,204.0,205.5,199.0,199.0,205.0,213.6,200.0,
  200.0,204.5,203.5,198.5,198.5,205.0,206.0,199.0,199.5,204.5,212.6,200.0,201.0,198.5,204.5,199.5,198.0,204.0,207.0,199.0,
  200.5,204.0,205.5,199.0,199.0,204.5,203.5,198.5,206.5,199.5,198.5,205.0,212.8,199.0,201.0,204.0,205.0,198.5,199.5,204.5,
  203.5,198.5,198.5,204.5,206.0,199.0,200.0,205.0,204.0,198.5,198.0,204.0,207.0,199.5,199.5,205.0,203.0,198.0,197.5,204.0,
  205.5,199.0,199.0,204.5,204.0,198.5,212.8,199.5,198.5,205.0,203.5,199.0,200.0,204.5,206.5,198.5,198.5,204.0,203.0,199.0,
  199.5
];

// tick values
const iterMajor = [0, 250, 500, 750, 1000];
const iterMinor = [125, 375, 625, 875];
const interceptTicks = [-1, -0.5, 0, 0.5];
const interceptMinor = [-0.75, -0.25, 0.25];
const nonTechTicks = [-0.5, 0, 0.5, 1];
const nonTechMinor = [-0.25, 0.25, 0.75];
const lowUsTicks = [-5, -4, -3, -2, -1];
const lowUsMinor = [-4.5, -3.5, -2.5, -1.5, -0.5];
const interTicks = [1, 2, 3, 4, 5];
const interMinor = [0.5, 1.5, 2.5, 3.5, 4.5];
const sdIntTicks = [0, 2.5, 5, 7.5, 10];
const sdIntMinor = [1.25, 3.75, 6.25, 8.75];
const sdErrTicks = [2.5, 3, 3.5, 4];
const sdErrMinor = [2.75, 3.25, 3.75, 4.25];
const dispTicks = [0, 10, 20, 30, 40, 50];
const dispMinor = [5, 15, 25, 35, 45];
const devTicks = [195, 200, 205, 210, 215, 220];
const devMinor = [197.5, 202.5, 207.5, 212.5, 217.5];

const chainColors = ["#ff5c5c", "#00b200", "#4386f5"];
const chainWidths = [1.5, 1.5, 1.9];
const FONT = "'Liberation Sans', Arial, Helvetica, sans-serif";

const panels = [
  { title: "Intercept", chains: [interceptRed, interceptGreen, interceptBlue],
    ticks: interceptTicks, minor: interceptMinor, yMin: -1.19, yMax: 0.72, dec: 1,
    left: 55, top: 34, width: 331, height: 122, valueX: 16 },
  { title: "Conversational Style", chains: [interceptRed, interceptGreen, interceptBlue],
    ticks: interceptTicks, minor: interceptMinor, yMin: -1.19, yMax: 0.72, dec: 1,
    left: 444, top: 34, width: 332, height: 122, valueX: 405 },
  { title: "Non-Technical Language", chains: [nonTechRed, nonTechGreen, nonTechBlue],
    ticks: nonTechTicks, minor: nonTechMinor, yMin: -0.69, yMax: 1.22, dec: 1,
    left: 833, top: 34, width: 331, height: 122, valueX: 794 },
  { title: "Low Usability", chains: [lowUsRed, lowUsGreen, lowUsBlue],
    ticks: lowUsTicks, minor: lowUsMinor, yMin: -5.16, yMax: -0.04, dec: 0,
    left: 45, top: 228, width: 341, height: 122, valueX: 16 },
  { title: "Conversational Style*Low Usability", chains: [interRed, interGreen, interBlue],
    ticks: interTicks, minor: interMinor, yMin: 0.05, yMax: 5.19, dec: 0,
    left: 430, top: 228, width: 345, height: 122, valueX: 405 },
  { title: "SD of Intercept", chains: [sdIntRed, sdIntGreen, sdIntBlue],
    ticks: sdIntTicks, minor: sdIntMinor, yMin: -0.5, yMax: 10.5, dec: 1,
    left: 835, top: 228, width: 328, height: 122, valueX: 794 },
  { title: "SD of the Error", chains: [sdErrRed, sdErrGreen, sdErrBlue],
    ticks: sdErrTicks, minor: sdErrMinor, yMin: 2.465, yMax: 4.35, dec: 1,
    left: 51, top: 422, width: 335, height: 122, valueX: 16 },
  { title: "Dispersion Parameter", chains: [dispRed, dispGreen, dispBlue],
    ticks: dispTicks, minor: dispMinor, yMin: -1.45, yMax: 52.45, dec: 0,
    left: 436, top: 422, width: 338, height: 122, valueX: 405 },
  { title: "Deviance", chains: [devRed, devGreen, devBlue],
    ticks: devTicks, minor: devMinor, yMin: 194.4, yMax: 220.5, dec: 0,
    left: 832, top: 422, width: 332, height: 122, valueX: 794 }
];

const gridMajor = { color: "#ebebeb", width: 1.4 };
const gridMinor = { color: "#f0f0f0", width: 0.8 };
const hidden = { show: false, onZero: false };

const grids = [], xAxes = [], yAxes = [], series = [], titles = [];

panels.forEach((p, k) => {
  grids.push({ left: p.left, top: p.top, width: p.width, height: p.height,
    containLabel: false, outerBoundsMode: "none" });

  // major + minor x axes
  xAxes.push({
    gridIndex: k, type: "value", min: -50, max: 1050,
    name: "Iteration", nameLocation: "middle", nameGap: 20,
    nameTextStyle: { color: "#000", fontSize: 14, fontFamily: FONT },
    axisLine: hidden,
    axisTick: { show: false, customValues: iterMajor },
    axisLabel: { customValues: iterMajor, margin: 4, color: "#4d4d4d", fontSize: 12, fontFamily: FONT,
      formatter: v => String(Math.round(v)) },
    splitLine: { show: true, lineStyle: gridMajor }
  });
  xAxes.push({
    gridIndex: k, type: "value", min: -50, max: 1050,
    axisLine: hidden,
    axisTick: { show: false, customValues: iterMinor },
    axisLabel: { show: false },
    splitLine: { show: true, lineStyle: gridMinor }
  });

  // major + minor y axes
  yAxes.push({
    gridIndex: k, type: "value", min: p.yMin, max: p.yMax,
    name: "Value", nameLocation: "middle", nameRotate: 90,
    nameGap: p.left - (p.valueX + 7),
    nameTextStyle: { color: "#000", fontSize: 14, fontFamily: FONT },
    axisLine: hidden,
    axisTick: { show: false, customValues: p.ticks },
    axisLabel: { customValues: p.ticks, margin: 6, color: "#4d4d4d", fontSize: 12, fontFamily: FONT,
      formatter: v => Number(v).toFixed(p.dec) },
    splitLine: { show: true, lineStyle: gridMajor }
  });
  yAxes.push({
    gridIndex: k, type: "value", min: p.yMin, max: p.yMax, position: "left",
    axisLine: hidden,
    axisTick: { show: false, customValues: p.minor },
    axisLabel: { show: false },
    splitLine: { show: true, lineStyle: gridMinor }
  });

  titles.push({
    text: p.title, left: p.left, top: p.top - 24, padding: 0,
    textStyle: { color: "#000", fontSize: 17, fontWeight: "normal", fontFamily: FONT }
  });

  p.chains.forEach((vals, c) => {
    series.push({
      type: "line",
      xAxisIndex: 2 * k,
      yAxisIndex: 2 * k,
      data: vals.map((v, i) => [i * STEP, v]),
      showSymbol: false,
      symbol: "none",
      silent: true,
      lineStyle: { width: chainWidths[c], color: chainColors[c] },
      itemStyle: { color: chainColors[c] },
      z: 2 + c
    });
  });
});

const chart = echarts.init(document.getElementById("chart"), null, { renderer: "canvas" });
chart.setOption({
  backgroundColor: "#fff",
  animation: false,
  title: titles,
  grid: grids,
  xAxis: xAxes,
  yAxis: yAxes,
  series: series
});
</script>
</body>
</html>
